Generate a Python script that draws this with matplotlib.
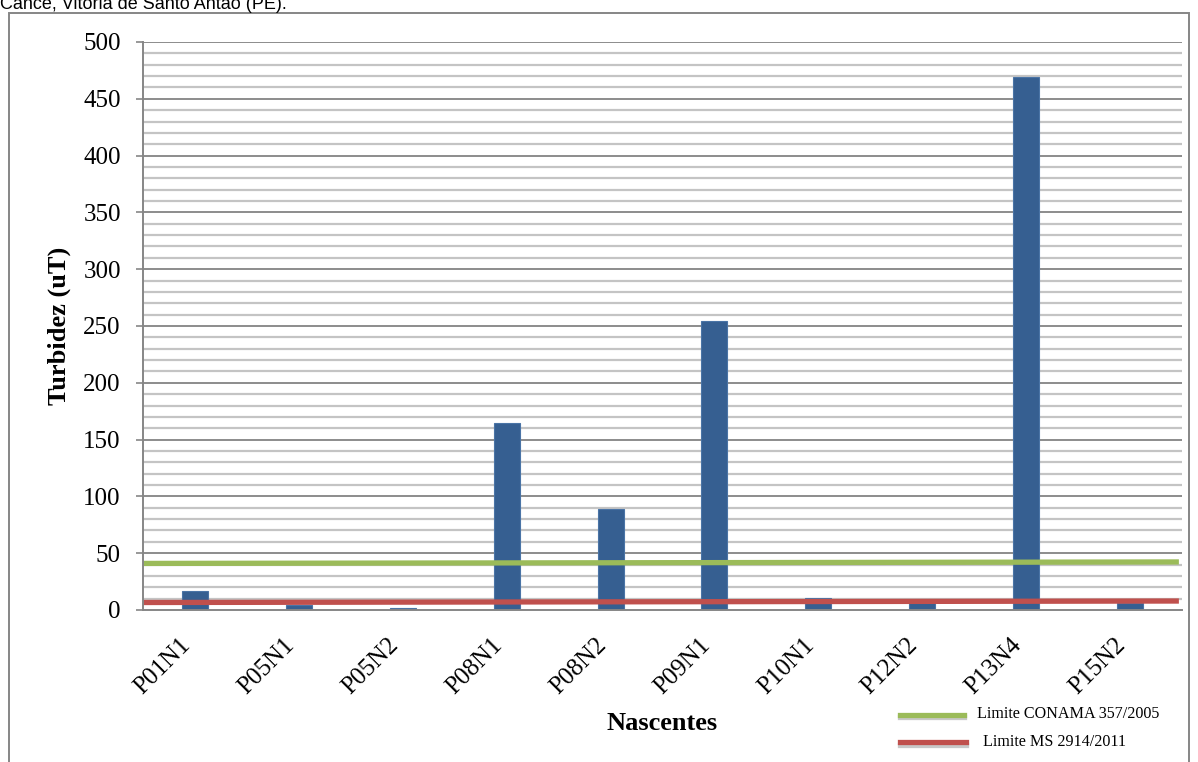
import matplotlib
matplotlib.use("Agg")
import matplotlib.pyplot as plt
import matplotlib.patheffects as pe
from matplotlib.lines import Line2D
from matplotlib.patches import Rectangle
import numpy as np

categories = ["P01N1", "P05N1", "P05N2", "P08N1", "P08N2", "P09N1",
              "P10N1", "P12N2", "P13N4", "P15N2"]
turbidez = [16.7, 4.4, 1.5, 165, 89, 254, 10.5, 7, 469, 5.9]
conama_limit = [41.0, 42.3]   # hand-drawn line, left and right end
ms_limit = [6.6, 7.9]          # hand-drawn line, left and right end
line_x = [-0.5, 9.47]
yticks = list(range(0, 501, 50))
minor_ticks = list(range(0, 501, 10))

W, H = 1198, 762
fig = plt.figure(figsize=(W / 100, H / 100), dpi=100)
ax = fig.add_axes([143 / W, 1 - 610 / H, (1182 - 143) / W, (610 - 42) / H])

serif = "Liberation Serif"
bar_color = "#365F91"
grid_minor = "#C4C4C4"
grid_major = "#8C8C8C"
axis_col = "#868686"

x = np.arange(len(categories))
ax.bar(x, turbidez, width=0.25, color=bar_color, edgecolor="#4A74A6",
       linewidth=0.8, zorder=3)

ax.set_xlim(-0.5, len(categories) - 0.5)
ax.set_ylim(0, 500)

# gridlines
for v in minor_ticks:
    if v % 50 == 0:
        continue
    ax.axhline(v, color=grid_minor, lw=1.6, zorder=1)
for v in yticks[1:]:
    ax.axhline(v, color=grid_major, lw=1.4, zorder=1)

# limit lines
ax.plot(line_x, conama_limit, color="#9BBB59", lw=3.8, zorder=4,
        solid_capstyle="butt")
ax.plot(line_x, ms_limit, color="#C0504D", lw=3.8, zorder=4,
        solid_capstyle="butt")

ax.set_yticks(yticks)
ax.set_yticklabels([str(v) for v in yticks], fontfamily=serif, fontsize=18)
ax.set_xticks(x)
ax.set_xticklabels(categories, fontfamily=serif, fontsize=18, rotation=45,
                   ha="right", va="top")
for lbl in ax.get_xticklabels():
    lbl.set_x(lbl.get_position()[0])
ax.tick_params(axis="y", length=5, width=1.2, color=axis_col, pad=11)
ax.tick_params(axis="x", length=0, pad=17)

for s in ["top", "right"]:
    ax.spines[s].set_visible(False)
for s in ["left", "bottom"]:
    ax.spines[s].set_color(axis_col)
    ax.spines[s].set_linewidth(1.4)
    ax.spines[s].set_zorder(5)

fig.text(59 / W, 1 - 326 / H, "Turbidez (uT)", rotation=90, ha="center",
         va="center", fontfamily=serif, fontweight="bold", fontsize=19)
fig.text(662 / W, 1 - 723 / H, "Nascentes", ha="center", va="center",
         fontfamily=serif, fontweight="bold", fontsize=19)

# legend (drawn manually as in the original)
shadow = [pe.SimpleLineShadow(offset=(0, -2), shadow_color="#BBBBBB", alpha=0.8),
          pe.Normal()]
fig.add_artist(Line2D([900 / W, 964 / W], [1 - 714.5 / H, 1 - 714.5 / H],
                      color="#9BBB59", lw=3.8, path_effects=shadow))
fig.add_artist(Line2D([900 / W, 966 / W], [1 - 742 / H, 1 - 742 / H],
                      color="#C0504D", lw=3.8, path_effects=shadow))
fig.text(977 / W, 1 - 714 / H, "Limite CONAMA 357/2005", ha="left",
         va="center", fontfamily=serif, fontsize=11.6)
fig.text(983 / W, 1 - 742 / H, "Limite MS 2914/2011", ha="left",
         va="center", fontfamily=serif, fontsize=11.6)

# outer frame of the chart
fig.add_artist(Rectangle((8.5 / W, -0.05), (1189 - 8.5) / W, 1.05 - 12.5 / H,
                         fill=False, edgecolor=axis_col, lw=1.4,
                         transform=fig.transFigure))

# partially visible caption at the very top (cut off as in the reference)
fig.text(0, 1 - 9 / H, "Cancé, Vitória de Santo Antão (PE).", ha="left",
         va="baseline", fontfamily="Liberation Sans", fontsize=13)

fig.savefig("out.png", dpi=100)
